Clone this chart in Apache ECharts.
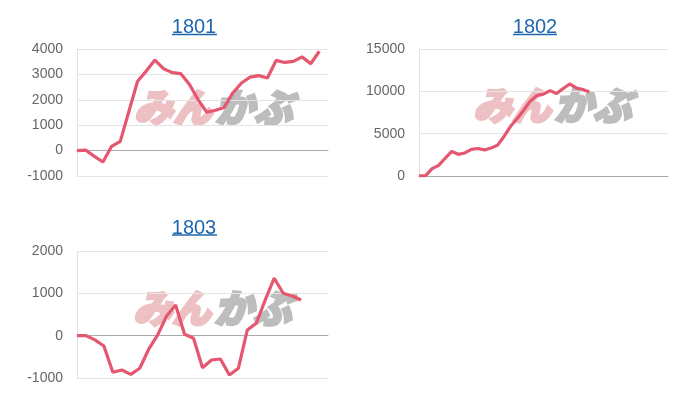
<!DOCTYPE html>
<html>
<head>
<meta charset="utf-8">
<script src="https://cdn.jsdelivr.net/npm/echarts@6/dist/echarts.min.js"></script>
<style>
html,body{margin:0;padding:0;background:#fff;}
#chart{width:700px;height:400px;}
</style>
</head>
<body>
<div id="chart"></div>
<script>
// ---- data ----
const titles = ['1801', '1802', '1803'];
const slotCounts = [30, 39, 29];           // number of x positions per panel
const values1801 = [0, 20, -225, -450, 170, 365, 1550, 2730, 3130, 3565, 3225, 3070, 3030, 2600, 2000, 1510, 1590, 1700, 2270, 2660, 2890, 2950, 2860, 3550, 3470, 3510, 3690, 3420, 3910];
const values1802 = [0, 50, 870, 1250, 2100, 2900, 2560, 2720, 3150, 3250, 3080, 3300, 3650, 4700, 5900, 6800, 7800, 8870, 9500, 9670, 10080, 9740, 10330, 10870, 10400, 10210, 9930];
const values1803 = [0, 0, -100, -245, -866, -810, -913, -770, -320, 20, 466, 726, 33, -61, -756, -575, -551, -930, -771, 135, 293, 844, 1357, 1002, 938, 844];
const yMin = [-1000, 0, -1000];
const yMax = [4000, 15000, 2000];
const yStep = [1000, 5000, 1000];
const watermarkA = 'みん';
const watermarkB = 'かぶ';

const seriesValues = [values1801, values1802, values1803];

// ---- layout ----
const grids = [
  {left: 77, top: 49, width: 251, height: 127},
  {left: 419, top: 49, width: 249, height: 127},
  {left: 77, top: 251, width: 251, height: 127}
];
const titlePos = [[194, 27, 172, 217, 34.5], [535, 27, 513, 557, 34.5], [194, 228, 172, 217, 235]];
const markPos = [[212, 107], [551, 105], [211, 308]];

const lineColor = '#e5566f';
const linkColor = '#1f67ad';
const font = '"Liberation Sans", Arial, sans-serif';

const chart = echarts.init(document.getElementById('chart'), null, {renderer: 'canvas'});

const graphics = [];
titles.forEach((t, i) => {
  const p = titlePos[i];
  graphics.push({
    type: 'text', z: 10,
    style: {text: t, x: p[0], y: p[1], fill: linkColor, font: '20px ' + font, textAlign: 'center', textVerticalAlign: 'middle'}
  });
  graphics.push({
    type: 'line', z: 10,
    shape: {x1: p[2], y1: p[4], x2: p[3], y2: p[4]},
    style: {stroke: linkColor, lineWidth: 1.3}
  });
  const m = markPos[i];
  graphics.push({
    type: 'text', z: -1,
    style: {text: watermarkA, x: m[0], y: m[1], fill: '#edc0c3', stroke: '#edc0c3', lineWidth: 2.5, font: 'italic 900 39px "Noto Sans CJK JP"', textAlign: 'right', textVerticalAlign: 'middle'}
  });
  graphics.push({
    type: 'text', z: -1,
    style: {text: watermarkB, x: m[0] + 3, y: m[1], fill: '#bdbdbd', stroke: '#bdbdbd', lineWidth: 2.5, font: 'italic 900 39px "Noto Sans CJK JP"', textAlign: 'left', textVerticalAlign: 'middle'}
  });
});

const option = {
  animation: false,
  backgroundColor: '#fff',
  grid: grids.map(g => Object.assign({containLabel: false}, g)),
  xAxis: slotCounts.map((n, i) => ({
    type: 'category',
    gridIndex: i,
    boundaryGap: false,
    data: Array.from({length: n}, (_, k) => String(k)),
    axisLine: {show: true, onZero: true, lineStyle: {color: '#aaaaaa', width: 1}},
    axisTick: {show: false},
    axisLabel: {show: false},
    splitLine: {show: false}
  })),
  yAxis: yMin.map((mn, i) => ({
    type: 'value',
    gridIndex: i,
    min: mn, max: yMax[i], interval: yStep[i],
    axisLine: {show: true, lineStyle: {color: '#e2e2e2'}},
    axisTick: {show: false},
    axisLabel: {color: '#666', fontSize: 14, fontFamily: font, margin: 14, formatter: v => String(v)},
    splitLine: {show: true, lineStyle: {color: '#e4e4e4', width: 1}}
  })),
  series: seriesValues.map((v, i) => ({
    type: 'line',
    xAxisIndex: i, yAxisIndex: i,
    data: v,
    showSymbol: false,
    symbol: 'none',
    lineStyle: {color: lineColor, width: 3.2},
    z: 5
  })),
  graphic: graphics
};
chart.setOption(option);
</script>
</body>
</html>
